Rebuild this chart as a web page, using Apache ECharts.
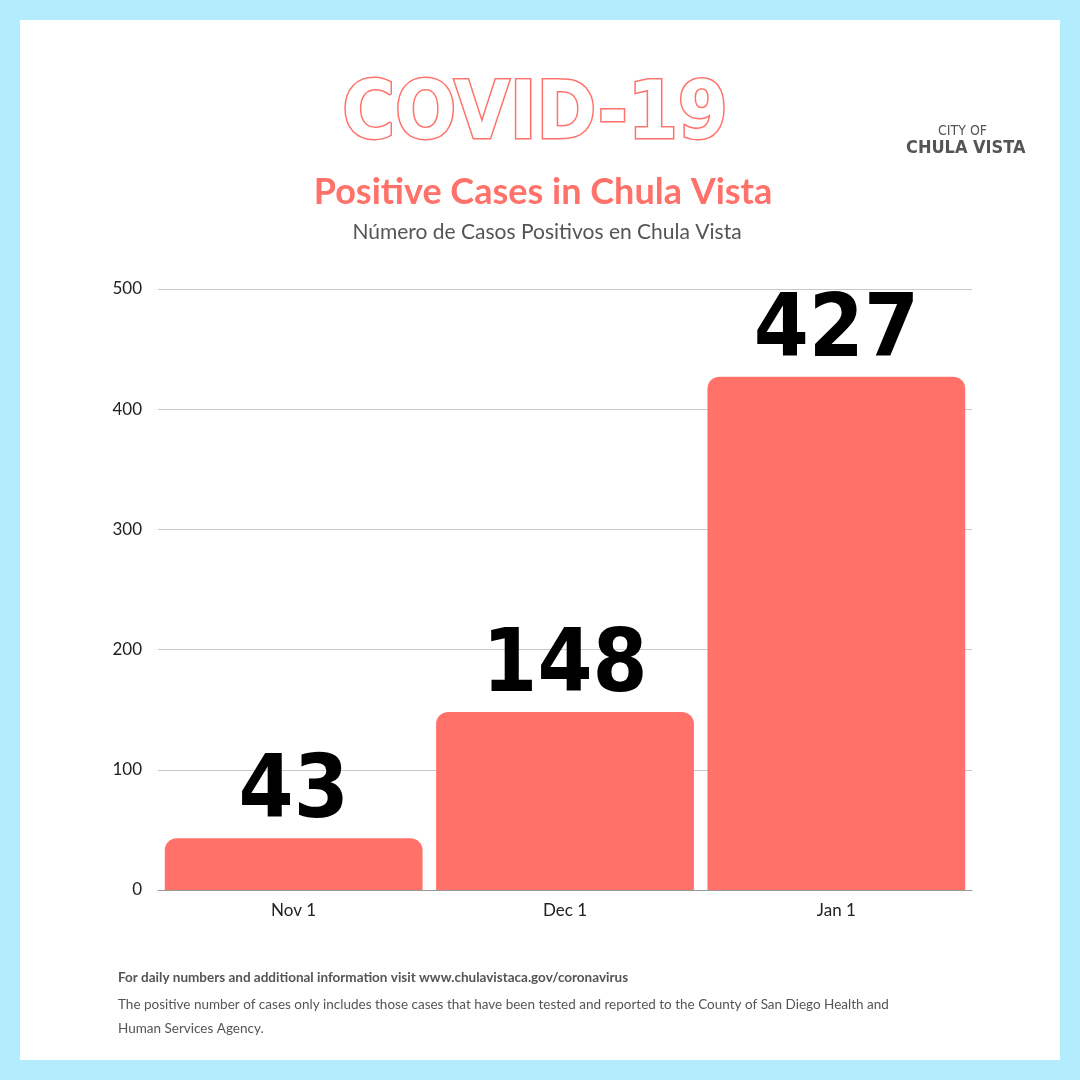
<!DOCTYPE html>
<html>
<head>
<meta charset="utf-8">
<script src="https://cdn.jsdelivr.net/npm/echarts@6/dist/echarts.min.js"></script>
<style>
html,body{margin:0;padding:0;background:#b3ecfc;}
#chart{position:absolute;left:20px;top:20px;width:1040px;height:1040px;background:#fff;}
</style>
</head>
<body>
<div id="chart"></div>
<script>
var categories = ["Nov 1", "Dec 1", "Jan 1"];
var cases = [43, 148, 427];
var yTicks = [0, 100, 200, 300, 400, 500];

var chart = echarts.init(document.getElementById("chart"));
var coral = "#ff7169";

chart.setOption({
	animation: false,
	title: [{
		text: "COVID-19",
		left: 510, top: 52, textAlign: "center",
		textStyle: {fontFamily: "DejaVu Sans Condensed", fontWeight: "bold", fontSize: 80, color: "#fff",
			textBorderColor: coral, textBorderWidth: 3}
	}, {
		text: "Positive Cases in Chula Vista",
		left: 518, top: 149, textAlign: "center",
		textStyle: {fontFamily: "Lato", fontWeight: "bold", fontSize: 36, color: coral}
	}, {
		text: "Número de Casos Positivos en Chula Vista",
		left: 522, top: 197, textAlign: "center",
		textStyle: {fontFamily: "Lato", fontWeight: "normal", fontSize: 21, color: "#555"}
	}],
	graphic: [{
		type: "text", left: 918, top: 104,
		style: {text: "CITY OF", font: "14px 'DejaVu Sans Condensed'", fill: "#555"}
	}, {
		type: "text", left: 886, top: 119,
		style: {text: "CHULA VISTA", font: "bold 18px 'DejaVu Sans Condensed'", fill: "#555"}
	}, {
		type: "text", left: 98, top: 951,
		style: {text: "For daily numbers and additional information visit www.chulavistaca.gov/coronavirus", font: "bold 13.5px Lato", fill: "#555"}
	}, {
		type: "text", left: 98, top: 973,
		style: {text: "The positive number of cases only includes those cases that have been tested and reported to the County of San Diego Health and\nHuman Services Agency.", font: "13.5px Lato", fill: "#555", lineHeight: 24}
	}],
	grid: {left: 138, right: 88, top: 269, bottom: 170},
	xAxis: {
		type: "category", data: categories,
		axisTick: {show: false},
		axisLine: {lineStyle: {color: "#999"}},
		axisLabel: {color: "#222", fontFamily: "Lato", fontSize: 17, margin: 12}
	},
	yAxis: {
		type: "value", min: yTicks[0], max: yTicks[yTicks.length - 1], interval: 100,
		axisLabel: {color: "#222", fontFamily: "Lato", fontSize: 17, margin: 16},
		splitLine: {lineStyle: {color: "#c8c8c8"}}
	},
	series: [{
		type: "bar", data: cases,
		barCategoryGap: "5%",
		itemStyle: {color: coral, borderRadius: [12, 12, 0, 0]},
		label: {
			show: true, position: "top", distance: 0,
			fontFamily: "DejaVu Sans Condensed", fontWeight: "bold", fontSize: 88, color: "#000"
		}
	}]
});
</script>
</body>
</html>
